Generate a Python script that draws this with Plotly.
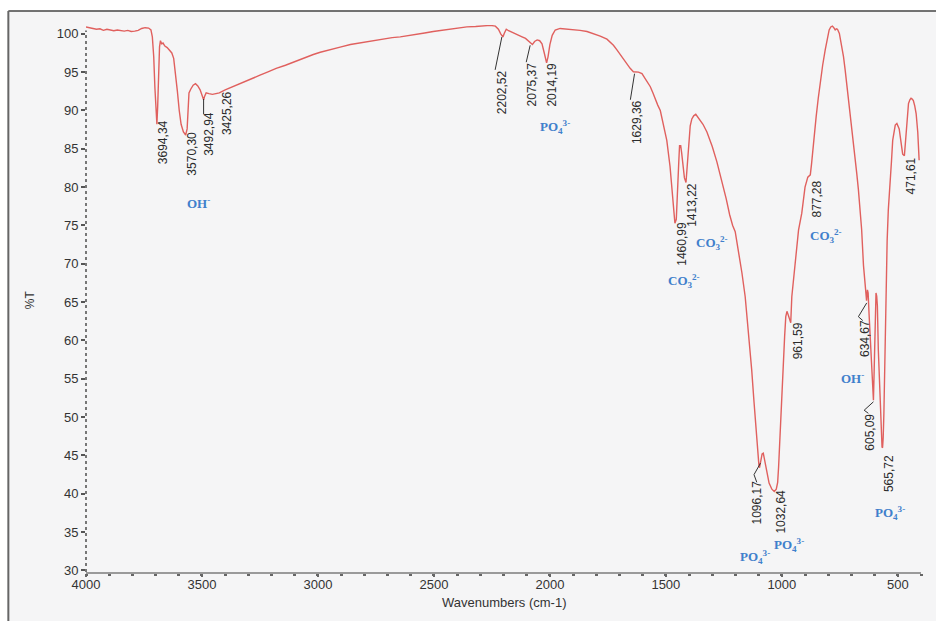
import plotly.graph_objects as go

# ---------------- data ----------------
wavenumber = [
    4000, 3985, 3970, 3955, 3940, 3925, 3910, 3895, 3880, 3865, 3850, 3835, 3820, 3805, 3790,
    3775, 3760, 3745, 3730, 3720, 3714, 3708, 3703, 3698, 3694.34, 3691, 3687, 3683, 3679, 3674,
    3668, 3660, 3650, 3640, 3630, 3622, 3614, 3606, 3598, 3590, 3580, 3570.30, 3564, 3560, 3556,
    3548, 3538, 3528, 3518, 3508, 3498, 3492.94, 3488, 3482, 3470, 3455, 3440, 3425.26, 3400, 3370,
    3330, 3290, 3250, 3218, 3180, 3140, 3100, 3060, 3020, 2990, 2950, 2900, 2860, 2820, 2790,
    2750, 2720, 2680, 2645, 2610, 2575, 2540, 2503, 2470, 2430, 2395, 2358, 2320, 2290, 2257,
    2235, 2222, 2212, 2202.52, 2196, 2188, 2178, 2165, 2150, 2135, 2120, 2105, 2090, 2075.37, 2066,
    2055, 2044, 2034, 2025, 2018, 2014.19, 2008, 2000, 1990, 1977, 1956, 1930, 1898, 1870, 1840,
    1810, 1783, 1754, 1726, 1711, 1695, 1683, 1668, 1654, 1640, 1629.36, 1618, 1603, 1589, 1578,
    1567, 1556, 1546, 1535, 1524, 1510, 1496, 1482, 1474, 1467, 1460.99, 1455, 1451, 1448, 1444,
    1441, 1436, 1432, 1427, 1420, 1413.22, 1409, 1405, 1400, 1395, 1388, 1380, 1371, 1359, 1340,
    1323, 1300, 1280, 1260, 1240, 1225, 1212, 1201, 1187, 1172, 1158, 1144, 1130, 1120, 1112,
    1104, 1099, 1096.17, 1091, 1085, 1080, 1075, 1065, 1055, 1043, 1032.64, 1024, 1018, 1014, 1010,
    1004, 998, 993, 988, 983, 978, 972, 966, 961.59, 957, 950, 943, 935, 928, 914,
    900, 888, 877.28, 872, 867, 860, 852, 843, 835, 824, 813, 804, 796, 789, 782,
    776, 770, 765, 760, 752, 745, 734, 727, 720, 713, 706, 698, 691, 684, 677,
    670, 663, 656, 648, 641, 634.67, 631, 628, 624, 620, 616, 612, 608, 605.09, 602,
    599, 596, 594, 591, 588, 584, 580, 577, 574, 571, 568, 565.72, 563, 560, 557,
    554, 550, 546, 541, 536, 533, 527, 522, 516, 511, 504, 499, 494, 489, 485,
    479, 471.61, 468, 464, 459, 454, 448, 443, 438, 433, 427, 421, 414, 408,
]
transmittance = [
    100.9, 100.8, 100.75, 100.6, 100.65, 100.45, 100.6, 100.5, 100.4, 100.5, 100.45, 100.35, 100.45, 100.3, 100.35,
    100.45, 100.7, 100.8, 100.75, 100.5, 99.6, 97.0, 93.0, 89.3, 88.2, 90.5, 95.5, 98.3, 99.1, 98.7,
    98.8, 98.4, 98.2, 97.9, 97.5, 96.8, 95.0, 92.5, 90.0, 88.2, 87.2, 86.8, 87.6, 90.0, 92.3,
    92.8, 93.3, 93.5, 93.2, 92.7, 91.9, 91.4, 91.9, 92.3, 92.2, 92.1, 92.2, 92.3, 92.7, 93.1,
    93.6, 94.1, 94.6, 95.0, 95.5, 95.9, 96.4, 96.9, 97.3, 97.6, 97.95, 98.3, 98.6, 98.8, 99.0,
    99.2, 99.3, 99.5, 99.6, 99.8, 99.95, 100.1, 100.3, 100.45, 100.65, 100.8, 100.9, 100.95, 101.0, 101.1,
    101.0, 100.6, 100.0, 99.6, 100.1, 100.6, 100.4, 100.2, 100.0, 99.8, 99.6, 99.4, 99.0, 98.6, 99.0,
    99.2, 99.1, 98.7, 97.6, 96.5, 96.2, 97.0, 98.6, 99.8, 100.5, 100.7, 100.65, 100.6, 100.45, 100.3,
    100.0, 99.7, 99.3, 98.5, 97.9, 97.2, 96.8, 96.1, 95.5, 95.05, 95.0, 95.0, 94.8, 94.2, 93.6,
    93.1, 92.3, 91.4, 90.7, 90.0, 87.9, 86.1, 82.7, 80.0, 76.8, 75.3, 75.8, 78.0, 80.2, 83.5,
    85.4, 85.4, 84.5, 82.8, 81.2, 80.6, 82.5, 84.6, 86.8, 88.0, 88.9, 89.3, 89.5, 89.0, 88.2,
    87.2, 85.3, 83.3, 81.0, 78.5, 76.4, 75.0, 74.2, 71.8, 68.8, 65.7, 61.4, 56.2, 52.0, 48.5,
    45.2, 43.8, 43.4, 44.2, 45.2, 45.3, 44.6, 42.8, 41.4, 40.6, 40.3, 40.6, 41.5, 43.5, 46.3,
    49.6, 53.5, 57.0, 60.5, 63.1, 63.8, 63.3, 62.6, 62.3, 65.7, 68.0, 70.1, 72.3, 74.4, 76.6,
    80.0, 81.3, 81.6, 83.0, 84.8, 87.0, 89.2, 91.6, 93.5, 95.9, 97.9, 99.3, 100.5, 100.9, 101.0,
    100.8, 100.5, 100.65, 100.6, 100.05, 98.9, 97.0, 95.3, 93.5, 91.6, 89.6, 87.5, 85.7, 83.8, 81.8,
    79.7, 77.4, 74.5, 69.8, 66.8, 65.2, 66.6, 66.2, 63.5, 60.9, 58.2, 55.7, 53.5, 52.2, 56.0,
    61.0, 65.5, 66.2, 65.8, 64.5, 58.8, 55.0, 52.2, 49.0, 46.6, 46.1, 46.0, 47.3, 50.5, 55.5,
    61.0, 67.5, 73.0, 77.0, 79.0, 80.5, 83.5, 86.1, 87.5, 88.1, 88.3, 88.0, 87.6, 86.5, 85.3,
    84.3, 84.1, 85.5, 88.0, 89.8, 90.9, 91.4, 91.6, 91.5, 91.3, 90.6, 89.6, 87.2, 83.5,
]

x_ticks = [4000, 3500, 3000, 2500, 2000, 1500, 1000, 500]
y_ticks = [30, 35, 40, 45, 50, 55, 60, 65, 70, 75, 80, 85, 90, 95, 100]

peak_labels = ["3694,34", "3570,30", "3492,94", "3425,26", "2202,52", "2075,37", "2014,19",
               "1629,36", "1460,99", "1413,22", "877,28", "471,61", "961,59", "634,67",
               "605,09", "565,72", "1096,17", "1032,64"]
group_labels = ["OH<sup>-</sup>", "PO<sub>4</sub><sup>3-</sup>", "CO<sub>3</sub><sup>2-</sup>",
                "CO<sub>3</sub><sup>2-</sup>", "CO<sub>3</sub><sup>2-</sup>", "OH<sup>-</sup>",
                "PO<sub>4</sub><sup>3-</sup>", "PO<sub>4</sub><sup>3-</sup>", "PO<sub>4</sub><sup>3-</sup>"]

# ---------------- layout helpers ----------------
peak_label_pos = [(3667, 85.9), (3542, 84.4), (3468, 87.0), (3395, 89.7), (2206, 92.4),
                  (2077, 93.4), (1990, 93.4), (1624, 88.5), (1431, 72.6), (1387, 77.7),
                  (848, 78.4), (443, 81.4), (930, 59.9), (641, 60.2), (620, 48.1),
                  (538, 42.7), (1106, 38.9), (1003, 37.7)]
group_label_pos = [(3516, 77.9), (1977, 87.8), (1300, 72.7), (1421, 67.7), (809, 73.6),
                   (697, 55.1), (534, 37.5), (969, 33.3), (1115, 31.8)]
leader_paths = [
    [(3493, 91.5), (3493, 89.5)],
    [(2207, 99.6), (2236, 95.3)],
    [(2085, 98.5), (2102, 96.3)],
    [(1635, 94.8), (1653, 91.4)],
    [(1092, 44.0), (1120, 42.5), (1108, 41.5)],
    [(634, 64.9), (670, 63.1), (651, 62.6)],
    [(605, 52.0), (645, 50.9), (627, 50.5)],
]

fig = go.Figure()
fig.add_trace(go.Scatter(x=wavenumber, y=transmittance, mode="lines",
                         line=dict(color="#e0605e", width=1.4), hoverinfo="skip",
                         showlegend=False))

ann = []
for t, (px, py) in zip(peak_labels, peak_label_pos):
    ann.append(dict(x=px, y=py, xref="x", yref="y", text=t, textangle=-90, showarrow=False,
                    xanchor="center", yanchor="middle",
                    font=dict(family="Liberation Sans, Arial", size=12, color="#2b2b2b")))
for t, (px, py) in zip(group_labels, group_label_pos):
    ann.append(dict(x=px, y=py, xref="x", yref="y", text="<b>" + t + "</b>", showarrow=False,
                    xanchor="center", yanchor="middle",
                    font=dict(family="Liberation Serif, Times New Roman", size=13, color="#3f7fcc")))
ann.append(dict(x=-0.067, y=0.497, xref="paper", yref="paper", text="%T", textangle=-90,
                showarrow=False, xanchor="center", yanchor="middle",
                font=dict(family="Liberation Sans, Arial", size=12, color="#333")))
ann.append(dict(x=0.5007, y=-0.0566, xref="paper", yref="paper", text="Wavenumbers (cm-1)",
                showarrow=False, xanchor="center", yanchor="middle",
                font=dict(family="Liberation Sans, Arial", size=13, color="#333")))

shapes = [
    # scanned page background and border
    dict(type="rect", xref="paper", yref="paper", x0=-0.093, x1=1.03, y0=-0.1, y1=1.0256,
         fillcolor="#f5f5f6", line=dict(width=0), layer="below"),
    dict(type="line", xref="paper", yref="paper", x0=-0.093, x1=1.03, y0=1.0256, y1=1.0256,
         line=dict(color="#444", width=1.5)),
    dict(type="line", xref="paper", yref="paper", x0=-0.093, x1=-0.093, y0=-0.1, y1=1.0256,
         line=dict(color="#666", width=2)),
    # dotted y-axis line
    dict(type="line", xref="paper", yref="paper", x0=0, x1=0, y0=0, y1=0.99,
         line=dict(color="#777", width=2, dash="dot")),
]
for path in leader_paths:
    d = "M " + " L ".join(f"{a},{b}" for a, b in path)
    shapes.append(dict(type="path", xref="x", yref="y", path=d, line=dict(color="#333", width=1)))

fig.update_layout(
    width=936, height=621,
    margin=dict(l=86, r=15, t=25, b=49),
    paper_bgcolor="white", plot_bgcolor="rgba(0,0,0,0)",
    annotations=ann, shapes=shapes,
    xaxis=dict(range=[4000, 400], autorange=False, tickvals=x_ticks, showgrid=False,
               zeroline=False, showline=True, linecolor="#9a9a9a", linewidth=2,
               ticks="outside", ticklen=3, tickwidth=2, tickcolor="#666",
               ticklabelstandoff=-4,
               minor=dict(dtick=100, ticks="outside", ticklen=2, tickwidth=3, tickcolor="#666"),
               tickfont=dict(family="Liberation Sans, Arial", size=13, color="#333")),
    yaxis=dict(range=[29.8, 101.15], autorange=False, tickvals=y_ticks, showgrid=False,
               zeroline=False, showline=False,
               ticks="outside", ticklen=4, tickwidth=1.5, tickcolor="#555",
               tickfont=dict(family="Liberation Sans, Arial", size=13, color="#333")),
)

fig.write_html("out.html", config={"displayModeBar": False},
               post_script="document.body.style.margin='0';document.body.style.overflow='hidden';")
